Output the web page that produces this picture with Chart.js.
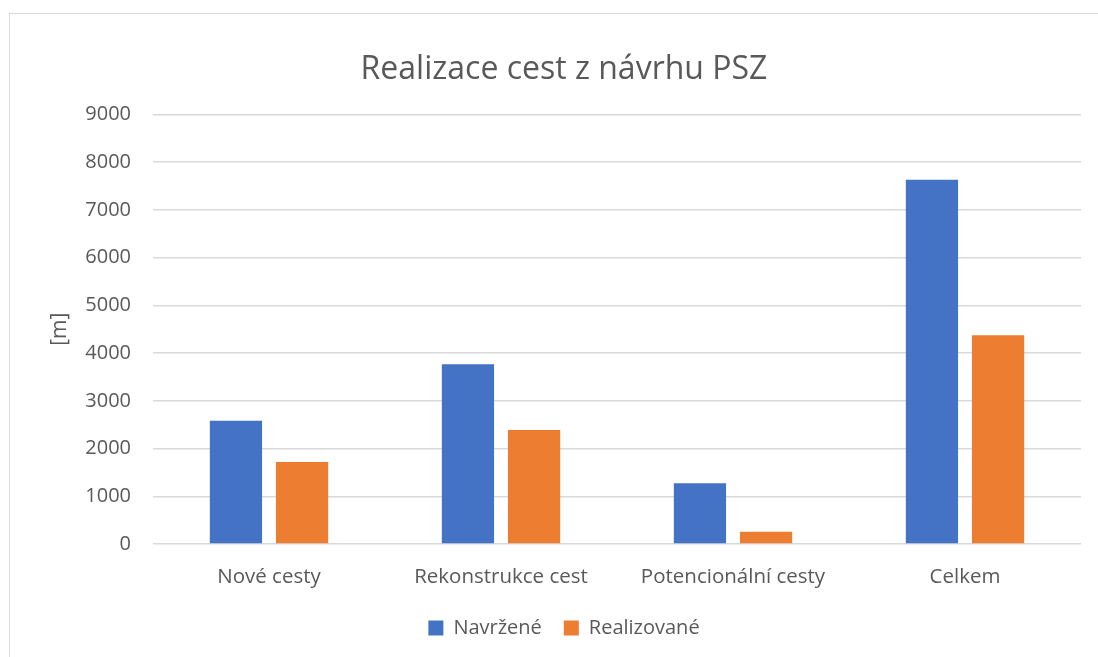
<!DOCTYPE html>
<html>
<head>
<meta charset="utf-8">
<script src="https://cdn.jsdelivr.net/npm/chart.js@4/dist/chart.umd.min.js"></script>
<style>
    html, body { margin: 0; padding: 0; background: #fff; }
    #wrap { position: relative; width: 1098px; height: 657px; overflow: hidden; }
    #frame {
        position: absolute; left: 9px; top: 13px; width: 1200px; height: 800px;
        border-left: 1.5px solid #d9d9d9; border-top: 1.5px solid #d9d9d9;
    }
    canvas { position: absolute; left: 0; top: 0; }
</style>
</head>
<body>
<div id="wrap">
    <div id="frame"></div>
    <canvas id="chart" width="1098" height="657"></canvas>
</div>
<script>
// Realizace cest z návrhu PSZ – grouped bar chart

const categories = ['Nové cesty', 'Rekonstrukce cest', 'Potencionální cesty', 'Celkem'];
const navrzene = [2580, 3765, 1275, 7630];
const realizovane = [1720, 2390, 255, 4375];
const yTicks = [0, 1000, 2000, 3000, 4000, 5000, 6000, 7000, 8000, 9000];

const FONT = "'Open Sans', 'Noto Sans', sans-serif";
const GREY = '#595959';

new Chart(document.getElementById('chart'), {
    type: 'bar',
    data: {
        labels: categories,
        datasets: [
            {
                label: 'Navržené',
                data: navrzene,
                backgroundColor: '#4472c4',
                borderWidth: 0,
                barPercentage: 0.79,
                categoryPercentage: 0.57,
            },
            {
                label: 'Realizované',
                data: realizovane,
                backgroundColor: '#ed7d31',
                borderWidth: 0,
                barPercentage: 0.79,
                categoryPercentage: 0.57,
            },
        ],
    },
    options: {
        responsive: false,
        animation: false,
        layout: { padding: { left: 47, right: 17, top: 0, bottom: 9 } },
        plugins: {
            title: {
                display: true,
                text: 'Realizace cest z návrhu PSZ',
                color: GREY,
                font: { family: FONT, size: 32, weight: 'normal' },
                padding: { top: 51, bottom: 25 },
            },
            legend: {
                position: 'bottom',
                labels: {
                    color: GREY,
                    font: { family: FONT, size: 20 },
                    boxWidth: 15,
                    boxHeight: 15,
                    padding: 22,
                },
            },
            tooltip: { enabled: false },
        },
        scales: {
            x: {
                afterFit: (scale) => {
                    scale.height = 52;
                },
                grid: { display: false },
                border: { display: false },
                ticks: { color: GREY, font: { family: FONT, size: 20.5 }, padding: 13 },
            },
            y: {
                min: 0,
                max: 9000,
                afterBuildTicks: (scale) => {
                    scale.ticks = yTicks.map((v) => ({ value: v }));
                },
                afterFit: (scale) => {
                    scale.width = 106;
                },
                grid: { color: '#d9d9d9', lineWidth: 1.5, drawTicks: false },
                border: { display: false },
                ticks: {
                    color: GREY,
                    font: { family: FONT, size: 20 },
                    padding: 22,
                    callback: (v) => String(v),
                },
                title: {
                    display: true,
                    text: '[m]',
                    color: GREY,
                    font: { family: FONT, size: 21 },
                    padding: { top: 0, bottom: 0 },
                },
            },
        },
    },
});
</script>
</body>
</html>
